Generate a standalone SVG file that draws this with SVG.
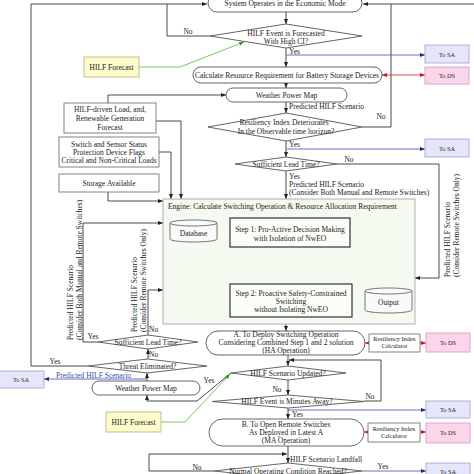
<svg xmlns="http://www.w3.org/2000/svg" width="474" height="474" viewBox="0 0 474 474">
<style>
text{font-family:"Liberation Serif","DejaVu Serif",serif;font-size:7.5px;fill:#222}
.c{text-anchor:middle}
.s{font-size:5.8px}
.r{font-size:6.3px}
.box{fill:#fff;stroke:#777;stroke-width:0.9}
.term{fill:#fff;stroke:#555;stroke-width:0.9}
.dia{fill:#fff;stroke:#555;stroke-width:0.9}
.step{fill:#fbfef8;stroke:#333;stroke-width:1.2}
.cyl{fill:#fafafa;stroke:#666;stroke-width:0.9}
.sa{fill:#e6e6fb;stroke:#a9a9d6;stroke-width:0.9}
.ds{fill:#fbd6ea;stroke:#d6a3c1;stroke-width:0.9}
.fc{fill:#fdfccb;stroke:#b8b88c;stroke-width:0.9}
.k{fill:none;stroke:#333;stroke-width:0.9;marker-end:url(#ak)}
.kn{fill:none;stroke:#333;stroke-width:0.9}
.b{fill:none;stroke:#5263c2;stroke-width:0.9;marker-end:url(#ab)}
.rd{fill:none;stroke:#e0313c;stroke-width:0.9;marker-end:url(#ar);marker-start:url(#ar)}
.g{fill:none;stroke:#6cbf4a;stroke-width:0.9;marker-end:url(#ag)}
</style>
<defs>
<marker id="ak" viewBox="0 0 10 10" refX="10" refY="5" markerWidth="5" markerHeight="5" orient="auto-start-reverse" markerUnits="userSpaceOnUse"><path d="M0,1 L10,5 L0,9 z" fill="#222"/></marker>
<marker id="ab" viewBox="0 0 10 10" refX="10" refY="5" markerWidth="5" markerHeight="5" orient="auto-start-reverse" markerUnits="userSpaceOnUse"><path d="M0,1 L10,5 L0,9 z" fill="#23238e"/></marker>
<marker id="ar" viewBox="0 0 10 10" refX="10" refY="5" markerWidth="5" markerHeight="5" orient="auto-start-reverse" markerUnits="userSpaceOnUse"><path d="M0,1 L10,5 L0,9 z" fill="#cc1122"/></marker>
<marker id="ag" viewBox="0 0 10 10" refX="10" refY="5" markerWidth="5" markerHeight="5" orient="auto-start-reverse" markerUnits="userSpaceOnUse"><path d="M0,1 L10,5 L0,9 z" fill="#3a9a2a"/></marker>
</defs>
<rect width="474" height="474" fill="#fff"/>

<g id="connectors">
<path class="k" d="M286,12 L286,24"/>
<path class="k" d="M31,366 L31,4 L207,4"/>
<path class="kn" d="M210,36 L167,36 L167,4"/>
<path class="k" d="M474,4 L363,4"/>
<path class="kn" d="M362,127 L391,127 L391,4"/>
<path class="k" d="M286,48 L286,67"/>
<path class="b" d="M287,55 L425,55"/>
<path class="rd" d="M382,75 L425,75"/>
<path class="g" d="M139,67 L180,67 L244,42"/>
<path class="k" d="M286,83 L286,88"/>
<path class="k" d="M108,103 L108,95 L226,95"/>
<path class="k" d="M286,102 L286,113"/>
<path class="k" d="M286,141 L286,157"/>
<path class="b" d="M287,149 L425,149"/>
<path class="k" d="M286,171 L286,199"/>
<path class="k" d="M337,164 L439,164 L439,278 L415,278"/>
<path class="k" d="M156,121 L181,121 L181,199"/>
<path class="k" d="M159,152 L171,152 L171,199"/>
<path class="k" d="M108,192 L108,201 L163,201"/>
<path class="k" d="M217,231 L230,231"/>
<path class="k" d="M269,247 L269,284"/>
<path class="k" d="M193.5,242 L193.5,302 L230,302"/>
<path class="k" d="M352,301 L365,301"/>
<path class="k" d="M98,342 L83,342 L83,223 L163,223"/>
<path class="k" d="M148,335 L148,290 L163,290"/>
<path class="k" d="M148,359 L148,349"/>
<path class="kn" d="M88,366 L31,366"/>
<path class="k" d="M147,381 L147,373"/>
<path class="b" d="M147,379 L44,379"/>
<path class="k" d="M231,373 L197,401 L147,401 L147,395"/>
<path class="g" d="M161,422 L185,422 L230,374"/>
<path class="k" d="M286,324 L286,331"/>
<path class="rd" d="M365,343 L426,343"/>
<path class="k" d="M288,355 L288,366"/>
<path class="k" d="M364,401 L381,401 L381,360 L289,360"/>
<path class="k" d="M288,380 L288,395"/>
<path class="b" d="M288,410 L426,410"/>
<path class="k" d="M288,408 L288,419"/>
<path class="rd" d="M364,432 L426,432"/>
<path class="k" d="M288,446 L288,463"/>
<path class="k" d="M214,471 L149,471 L149,454 L287,454"/>
<path class="b" d="M362,471 L426,471"/>
</g>

<g id="labels">
<text x="188" y="34" class="c">No</text>
<text x="289" y="53.5">Yes</text>
<text x="289" y="109">Predicted HILF Scenario</text>
<text x="381" y="118.5" class="c">No</text>
<text x="289" y="146.5">Yes</text>
<text x="349" y="161.5" class="c">No</text>
<text x="289" y="178.5">Yes</text>
<text x="289" y="186.5">Predicted HILF Scenario</text>
<text x="289" y="195">(Consider Both Manual and Remote Switches)</text>
<text transform="translate(450,277) rotate(-90)">Predicted HILF Scenario</text>
<text transform="translate(459,277) rotate(-90)">(Consider Remote Switches Only)</text>
<text x="280" y="265" class="s">Switching operations, Line Flows</text>
<text x="280" y="274" class="s">and Generator Set Points in Stage 1</text>
<text transform="translate(73,340) rotate(-90)">Predicted HILF Scenario</text>
<text transform="translate(81.5,340) rotate(-90)">(Consider Both Manual and Remote Switches)</text>
<text transform="translate(137,332) rotate(-90)">Predicted HILF Scenario</text>
<text transform="translate(145.5,332) rotate(-90)">(Consider Remote Switches Only)</text>
<text x="93" y="339" class="c">Yes</text>
<text x="149" y="331.5">No</text>
<text x="149" y="356.5">No</text>
<text x="55" y="363.5" class="c">Yes</text>
<text x="56" y="377.5" style="fill:#3b4aa8">Predicted HILF Scenario</text>
<text x="209" y="382.5" class="c">Yes</text>
<text x="370" y="399" class="c">No</text>
<text x="277" y="391.5" class="c">No</text>
<text x="292" y="416.5">Yes</text>
<text x="290" y="461.5">HILF Scenario Landfall</text>
<text x="197" y="470" class="c">No</text>
<text x="383" y="469" class="c">Yes</text>
</g>

<g id="sys"><rect class="term" x="208" y="-6" width="154" height="18" rx="9"/><text x="285" y="6" class="c">System Operates in the Economic Mode</text></g>
<g id="d-forecasted"><polygon class="dia" points="210,36 286,24 362,36 286,48"/><text x="286" y="35.5" class="c">HILF Event is Forecasted</text><text x="286" y="44" class="c">With High CI?</text></g>
<g id="sa1"><rect class="sa" x="425" y="45" width="44" height="18"/><text x="447" y="56.5" class="c r">To SA</text></g>
<g id="calc"><rect class="term" x="193" y="67" width="189" height="16" rx="8"/><text x="287" y="77.5" class="c">Calculate Resource Requirement for Battery Storage Devices</text></g>
<g id="ds1"><rect class="ds" x="425" y="67" width="44" height="17"/><text x="447" y="77.5" class="c r">To DS</text></g>
<g id="forecast1"><rect class="fc" x="84" y="57" width="55" height="20"/><text x="111.5" y="69.5" class="c">HILF Forecast</text></g>
<g id="weather1"><rect class="term" x="226" y="88" width="121" height="14" rx="7"/><text x="286.5" y="97.5" class="c">Weather Power Map</text></g>
<g id="d-resiliency"><polygon class="dia" points="208,127 286,113 362,127 286,141"/><text x="284" y="125" class="c">Resiliency Index Deteriorates</text><text x="286" y="133.5" class="c">In the Observable time horizon?</text></g>
<g id="sa2"><rect class="sa" x="425" y="139" width="44" height="18"/><text x="447" y="150.5" class="c r">To SA</text></g>
<g id="d-lead1"><polygon class="dia" points="235,164 286,157 337,164 286,171"/><text x="286" y="166.5" class="c">Sufficient Lead Time?</text></g>
<g id="in-load"><rect class="box" x="64" y="103" width="92" height="30"/><text x="110" y="112" class="c">HILF-driven Load, and,</text><text x="110" y="121" class="c">Renewable Generation</text><text x="110" y="129.5" class="c">Forecast</text></g>
<g id="in-switch"><rect class="box" x="59" y="137" width="100" height="30"/><text x="109" y="146.5" class="c">Switch and Sensor Status</text><text x="109" y="154.5" class="c">Protection Device Flags</text><text x="109" y="162.5" class="c">Critical and Non-Critical Loads</text></g>
<g id="in-storage"><rect class="box" x="59" y="174" width="100" height="18"/><text x="109" y="185.5" class="c">Storage Available</text></g>
<g id="engine">
<rect x="163" y="199" width="252" height="125" fill="#f4faef" stroke="#a8a8a8" stroke-width="0.9"/>
<text x="168" y="209">Engine: Calculate Switching Operation &amp; Resource Allocation Requirement</text>
</g>
<g id="database"><path class="cyl" d="M170,223 A23.5,3 0 0 1 217,223 L217,239 A23.5,3 0 0 1 170,239 Z"/><path class="kn" style="stroke:#666" d="M170,223 A23.5,3 0 0 0 217,223"/><text x="193.5" y="235.5" class="c">Database</text></g>
<g id="step1"><rect class="step" x="230" y="218" width="120" height="29"/><text x="290" y="231.5" class="c">Step 1: Pro-Active Decision Making</text><text x="290" y="240.5" class="c">with Isolation of NwEO</text></g>
<g id="step2"><rect class="step" x="230" y="284" width="122" height="33"/><text x="291" y="295.5" class="c">Step 2: Proactive Safety-Constrained</text><text x="291" y="303.5" class="c">Switching</text><text x="291" y="311.5" class="c">without Isolating NwEO</text></g>
<g id="output"><path class="cyl" d="M365,291 A23.5,3 0 0 1 412,291 L412,310 A23.5,3 0 0 1 365,310 Z"/><path class="kn" style="stroke:#666" d="M365,291 A23.5,3 0 0 0 412,291"/><text x="388.5" y="305" class="c">Output</text></g>
<g id="d-lead2"><polygon class="dia" points="98,342 148,335 198,342 148,349"/><text x="148" y="344.5" class="c">Sufficient Lead Time?</text></g>
<g id="d-threat"><polygon class="dia" points="88,366 147.5,359 207,366 147.5,373"/><text x="147.5" y="368.5" class="c">Threat Eliminated?</text></g>
<g id="sa-left"><rect class="sa" x="-2" y="371" width="46" height="17"/><text x="21" y="382" class="c r">To SA</text></g>
<g id="weather2"><rect class="term" x="92" y="381" width="108" height="14" rx="7"/><text x="146" y="390.5" class="c">Weather Power Map</text></g>
<g id="forecast2"><rect class="fc" x="106" y="412" width="55" height="20"/><text x="133.5" y="424.5" class="c">HILF Forecast</text></g>
<g id="opA"><rect class="term" x="206" y="331" width="159" height="24" rx="12"/><text x="286" y="336.8" class="c">A. To Deploy Switching Operation</text><text x="286" y="345" class="c">Considering Combined Step 1 and 2 solution</text><text x="286" y="353" class="c">(HA Operation)</text></g>
<g id="ri1"><rect class="box" x="369" y="334" width="51" height="18"/><text x="394.5" y="341" class="c r">Resiliency Index</text><text x="394.5" y="347.5" class="c r">Calculator</text></g>
<g id="ds2"><rect class="ds" x="426" y="333" width="44" height="19"/><text x="448" y="344.5" class="c r">To DS</text></g>
<g id="d-updated"><polygon class="dia" points="231,373 288,366 346,373 288,380"/><text x="288" y="375.5" class="c">HILF Scenario Updated?</text></g>
<g id="d-minutes"><polygon class="dia" points="212,401.5 288,395 364,401.5 288,408"/><text x="287" y="403.8" class="c">HILF Event is Minutes Away?</text></g>
<g id="sa3"><rect class="sa" x="426" y="401" width="44" height="17"/><text x="448" y="412" class="c r">To SA</text></g>
<g id="opB"><rect class="term" x="209" y="419" width="155" height="27" rx="13.5"/><text x="286" y="426.5" class="c">B. To Open Remote Switches</text><text x="286" y="435" class="c">As Deployed in Latest A</text><text x="286" y="443.3" class="c">(MA Operation)</text></g>
<g id="ri2"><rect class="box" x="368" y="423" width="52" height="19"/><text x="394" y="431" class="c r">Resiliency Index</text><text x="394" y="438" class="c r">Calculator</text></g>
<g id="ds3"><rect class="ds" x="426" y="423" width="44" height="20"/><text x="448" y="435" class="c r">To DS</text></g>
<g id="d-normal"><polygon class="dia" points="214,471 288,463 362,471 288,479"/><text x="288" y="473.5" class="c">Normal Operating Condition Reached?</text></g>
<g id="sa4"><rect class="sa" x="426" y="463" width="44" height="17"/><text x="448" y="474" class="c r">To SA</text></g>
</svg>
